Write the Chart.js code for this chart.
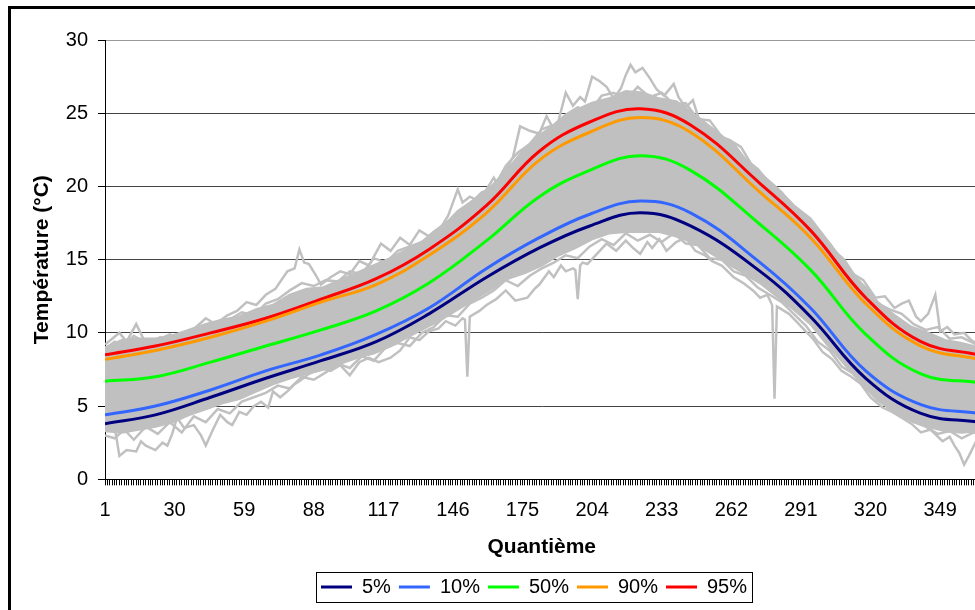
<!DOCTYPE html>
<html lang="fr">
<head>
<meta charset="UTF-8">
<title>Températures journalières</title>
<script src="https://cdn.jsdelivr.net/npm/chart.js"></script>
<style>
  html, body { margin: 0; padding: 0; overflow: hidden; background: #fff; }
  canvas { display: block; }
</style>
</head>
<body>
<canvas id="chartTemp" width="1068" height="640"></canvas>
<script>
// day of year where the percentile curves were read
const pctDays = [1, 22, 45, 68, 91, 114, 136, 160, 182, 203, 224, 245, 274, 295, 318, 341, 365];
const p05 = [3.8, 4.4, 5.6, 6.9, 8.1, 9.4, 11.3, 13.8, 15.8, 17.3, 18.2, 17.3, 14.2, 11.1, 6.9, 4.5, 3.9];
const p10 = [4.4, 5.0, 6.1, 7.4, 8.5, 9.9, 11.7, 14.4, 16.5, 18.1, 19.0, 18.2, 14.8, 11.7, 7.4, 5.1, 4.5];
const p50 = [6.7, 7.0, 8.0, 9.1, 10.2, 11.5, 13.4, 16.3, 19.3, 21.1, 22.1, 21.1, 17.4, 14.3, 9.9, 7.2, 6.6];
const p90 = [8.2, 8.8, 9.7, 10.8, 12.1, 13.3, 15.3, 18.2, 21.8, 23.7, 24.7, 23.7, 19.6, 16.5, 12.0, 9.1, 8.2];
const p95 = [8.5, 9.1, 10.0, 11.0, 12.3, 13.7, 15.7, 18.7, 22.4, 24.4, 25.3, 24.2, 20.2, 17.0, 12.4, 9.4, 8.5];

// dense part of the grey yearly traces
const bandDays = [1, 8, 15, 22, 29, 36, 43, 50, 57, 64, 71, 78, 85, 92, 99, 106, 113, 120, 127, 134,
  141, 148, 155, 162, 169, 176, 183, 190, 197, 204, 211, 218, 225, 232, 239, 246, 253, 260, 267, 274,
  281, 288, 295, 302, 309, 316, 323, 330, 337, 344, 351, 358, 365];
const bandHigh = [9.0, 9.5, 9.6, 9.6, 9.8, 10.2, 10.6, 10.9, 11.1, 11.6, 11.9, 12.6, 13.0, 13.1, 13.6, 14.1, 14.6, 15.1, 15.7, 16.3,
  17.1, 18.3, 19.1, 20.0, 21.2, 22.6, 23.6, 24.4, 25.2, 25.7, 26.0, 26.5, 26.4, 26.0, 25.8, 25.0, 24.1, 23.2, 22.0, 20.9,
  19.9, 18.7, 17.8, 16.3, 14.8, 13.4, 12.1, 11.2, 10.4, 10.0, 9.5, 9.3, 9.0];
const bandLow = [3.3, 3.2, 3.4, 3.6, 3.9, 4.4, 4.8, 5.2, 5.5, 6.0, 6.5, 6.9, 7.2, 7.5, 7.9, 8.3, 8.6, 9.1, 9.7, 10.3,
  10.9, 11.6, 12.3, 13.0, 13.7, 14.1, 14.6, 15.3, 15.8, 16.4, 16.8, 16.9, 16.9, 16.9, 16.6, 16.2, 15.5, 14.8, 14.1, 13.4,
  12.5, 11.6, 10.6, 9.2, 7.9, 6.6, 5.4, 4.6, 4.0, 3.6, 3.3, 3.2, 3.3];

// individual grey traces [day, temp]
const grayMax = [[1,9.2],[4,9.6],[7,10.0],[10,9.4],[14,10.6],[17,9.6],[20,9.3],[24,9.7],[27,9.3],[31,9.6],
  [35,9.8],[39,10.4],[43,11.0],[47,10.6],[52,11.2],[56,11.5],[60,12.1],[64,11.9],[68,12.6],[72,13.0],
  [77,14.2],[80,14.4],[82,15.7],[84,14.8],[86,14.7],[89,13.9],[91,13.3],[95,13.8],[99,14.2],[103,14.0],
  [107,14.9],[111,14.6],[116,16.1],[120,15.6],[124,16.5],[128,16.0],[132,17.0],[136,16.6],[141,17.2],[144,18.0],
  [148,19.8],[150,18.9],[153,19.3],[157,19.0],[163,20.6],[165,20.0],[168,21.1],[171,22.0],[174,24.1],[178,23.8],
  [182,23.6],[185,24.8],[188,23.9],[190,24.5],[193,26.4],[196,25.5],[199,26.1],[201,25.8],[204,27.5],[207,27.2],
  [210,26.8],[213,26.0],[216,26.7],[218,27.6],[220,28.3],[222,27.8],[225,28.1],[228,27.4],[231,26.6],[234,26.2],
  [238,27.0],[240,26.1],[243,25.4],[246,25.9],[249,24.3],[253,24.0],[257,23.4],[261,23.2],[266,22.7],[270,21.6],
  [274,20.9],[277,20.4],[280,19.7],[284,19.2],[288,18.1],[292,17.8],[297,17.0],[301,16.2],[305,15.6],[309,15.0],
  [313,14.0],[317,13.6],[322,12.4],[326,12.5],[330,11.7],[333,12.0],[336,12.2],[339,11.1],[341,10.8],[344,11.3],
  [347,12.6],[349,10.1],[352,10.4],[355,9.9],[359,10.0],[362,9.5],[365,9.2]];
const grayUp = [[1,8.9],[5,9.4],[9,9.1],[13,9.8],[18,9.3],[23,9.5],[28,9.9],[33,9.5],[38,10.3],[43,10.1],
  [48,10.8],[53,10.9],[58,11.4],[63,11.2],[68,12.0],[73,12.3],[78,12.9],[83,13.4],[88,13.2],[93,13.6],
  [98,13.5],[103,14.2],[108,14.0],[113,15.1],[118,14.8],[123,15.6],[128,15.9],[133,16.2],[138,16.9],[143,17.5],
  [148,18.1],[153,18.8],[158,19.6],[163,19.9],[168,21.4],[173,22.3],[178,22.9],[183,23.9],[188,24.2],[193,24.9],
  [198,25.4],[203,25.1],[208,26.2],[213,26.4],[218,25.9],[223,26.8],[228,26.1],[233,26.4],[238,25.6],[243,25.7],
  [248,24.6],[253,24.5],[258,23.4],[263,22.9],[268,21.8],[273,21.2],[278,20.2],[283,19.6],[288,18.4],[293,18.0],
  [298,16.8],[303,16.1],[308,14.9],[313,13.8],[318,13.1],[323,12.0],[328,11.6],[333,11.3],[338,10.6],[343,10.2],
  [348,10.4],[353,9.6],[358,9.7],[363,9.3],[365,9.1]];
const grayDown = [[1,3.0],[5,2.8],[9,3.4],[13,2.7],[18,3.6],[23,3.1],[28,3.9],[33,3.2],[38,4.3],[43,3.9],
  [48,4.8],[53,4.5],[58,5.3],[63,5.6],[68,5.9],[73,6.4],[78,6.2],[83,7.0],[88,6.8],[93,7.3],
  [98,7.9],[103,7.6],[108,8.4],[113,8.1],[118,9.0],[123,9.3],[128,9.1],[133,10.0],[138,10.4],[143,11.2],
  [148,11.1],[153,12.0],[158,12.4],[163,12.9],[168,13.6],[173,13.2],[178,13.9],[183,14.4],[188,14.8],[193,15.3],
  [198,15.1],[203,15.9],[208,16.4],[213,16.0],[218,16.8],[223,16.3],[228,16.7],[233,16.2],[238,16.8],[243,16.1],
  [248,16.0],[253,15.1],[258,15.0],[263,14.2],[268,13.9],[273,13.1],[278,12.6],[283,12.1],[288,11.3],[293,10.5],
  [298,9.4],[303,8.8],[308,7.7],[313,7.2],[318,6.2],[323,5.6],[328,4.8],[333,4.5],[338,3.9],[343,3.6],
  [348,3.1],[353,3.3],[358,2.8],[363,3.2],[365,3.1]];
const grayMin = [[1,3.5],[3,4.2],[5,3.6],[7,1.6],[10,2.0],[14,1.9],[16,2.6],[18,2.3],[22,2.0],[25,2.5],
  [27,2.3],[29,3.1],[31,4.2],[34,3.5],[38,3.7],[41,3.0],[43,2.3],[46,3.4],[49,4.4],[52,3.9],
  [54,3.7],[57,4.6],[60,4.4],[63,5.0],[66,5.3],[69,4.9],[71,6.0],[74,5.6],[77,6.0],[80,6.5],
  [82,6.7],[86,7.2],[91,7.6],[95,7.4],[99,7.8],[103,7.1],[107,8.0],[111,8.3],[115,8.0],[120,8.3],
  [124,8.8],[128,9.7],[132,9.5],[136,10.1],[140,10.3],[143,10.8],[147,10.5],[150,11.0],[151,10.9],[152,7.0],
  [153,11.1],[157,11.5],[160,11.9],[164,12.3],[168,12.9],[172,12.2],[177,12.4],[180,13.0],[182,13.3],[186,14.2],
  [188,13.8],[191,14.6],[193,14.2],[196,14.4],[197,14.3],[198,12.3],[199,14.6],[200,14.8],[202,14.7],[206,15.4],
  [210,16.1],[214,15.6],[218,16.3],[221,15.8],[224,15.4],[227,16.2],[229,15.8],[232,16.4],[235,15.6],[239,16.2],
  [243,16.5],[247,15.6],[251,15.3],[254,14.9],[258,14.6],[263,13.8],[267,13.4],[271,12.9],[274,12.4],[277,12.6],
  [279,11.9],[280,5.5],[281,11.8],[286,11.3],[289,10.8],[293,10.1],[296,9.6],[300,8.7],[304,8.2],[308,7.4],
  [312,7.0],[316,6.5],[320,5.6],[325,4.9],[329,4.6],[333,4.2],[337,3.8],[341,3.2],[345,3.4],[350,2.6],
  [353,2.9],[355,2.3],[357,1.8],[359,1.0],[361,1.6],[364,2.6],[365,2.5]];

const xLabels = [1, 30, 59, 88, 117, 146, 175, 204, 233, 262, 291, 320, 349];
const pctNames = ['5%', '10%', '50%', '90%', '95%'];
const pctColors = ['#000080', '#3366ff', '#00ff00', '#ff9900', '#ff0000'];
const GRAY = '#c0c0c0';
const FONT = "'Liberation Sans', Arial, sans-serif";

const toPts = (days, vals) => days.map((d, i) => ({ x: d, y: vals[i] }));
const pairPts = arr => arr.map(p => ({ x: p[0], y: p[1] }));
const grayLine = (label, data) => ({ label, data, borderColor: GRAY, borderWidth: 2.5, pointRadius: 0, tension: 0 });

const datasets = [p05, p10, p50, p90, p95].map((vals, i) => ({
  label: pctNames[i],
  data: toPts(pctDays, vals),
  borderColor: pctColors[i],
  backgroundColor: pctColors[i],
  borderWidth: 3,
  tension: 0.4,
  pointRadius: 0
}));
datasets.push(
  grayLine('max', pairPts(grayMax)),
  grayLine('min', pairPts(grayMin)),
  grayLine('haut2', pairPts(grayUp)),
  grayLine('bas2', pairPts(grayDown)),
  { ...grayLine('haut', toPts(bandDays, bandHigh)), backgroundColor: GRAY, fill: '+1' },
  grayLine('bas', toPts(bandDays, bandLow))
);

// outer frame, the box round the legend
const framePlugin = {
  id: 'framePlugin',
  afterDraw(chart) {
    const ctx = chart.ctx;
    ctx.save();
    ctx.fillStyle = '#000';
    ctx.fillRect(8, 6, 3, chart.height);
    ctx.fillRect(8, 6, chart.width, 3);
    const boxes = chart.legend.legendHitBoxes;
    if (boxes && boxes.length) {
      const l = Math.min(...boxes.map(b => b.left)) - 5;
      const r = Math.max(...boxes.map(b => b.left + b.width)) + 5;
      const t = boxes[0].top - 5;
      ctx.strokeStyle = '#000';
      ctx.lineWidth = 1;
      ctx.strokeRect(Math.round(l) + 0.5, Math.round(t) + 0.5, Math.round(r - l), 30);
    }
    ctx.restore();
  }
};

new Chart(document.getElementById('chartTemp'), {
  type: 'line',
  data: { datasets },
  plugins: [framePlugin],
  options: {
    responsive: false,
    animation: false,
    layout: { padding: { top: 40, left: 0, right: 0, bottom: 33 } },
    plugins: {
      tooltip: { enabled: false },
      legend: {
        position: 'bottom',
        labels: {
          filter: item => item.datasetIndex < 5,
          usePointStyle: true,
          pointStyle: 'line',
          pointStyleWidth: 31,
          padding: 8,
          color: '#000',
          font: { family: FONT, size: 20 }
        }
      }
    },
    scales: {
      x: {
        type: 'linear',
        min: 1,
        max: 365,
        afterFit(s) { s.height = 89.7; },
        border: { color: '#000' },
        grid: { display: true, drawOnChartArea: false, drawTicks: true, tickLength: 6, color: '#000', tickColor: '#000', lineWidth: 1 },
        ticks: {
          stepSize: 1,
          autoSkip: false,
          maxRotation: 0,
          minRotation: 0,
          padding: 13,
          color: '#000',
          font: { family: FONT, size: 20 },
          callback: v => xLabels.includes(v) ? String(v) : ''
        },
        title: {
          display: true,
          text: 'Quantième',
          color: '#000',
          font: { family: FONT, size: 21, weight: 'bold' },
          padding: { top: 0, bottom: 9 }
        }
      },
      y: {
        min: 0,
        max: 30,
        afterFit(s) { s.width = 105; },
        border: { color: '#000' },
        grid: {
          tickLength: 7,
          tickColor: '#000',
          color: c => c.tick.value === 30 ? '#999' : '#444'
        },
        ticks: { stepSize: 5, padding: 10, color: '#000', font: { family: FONT, size: 20 } },
        title: {
          display: true,
          text: 'Température (°C)',
          color: '#000',
          font: { family: FONT, size: 21, weight: 'bold' },
          padding: { top: 30, bottom: 0 }
        }
      },
      y2: {
        position: 'right',
        grid: { display: false },
        ticks: { display: false },
        border: { display: false },
        afterFit(s) { s.width = 89.5; }
      }
    }
  }
});
</script>
</body>
</html>
